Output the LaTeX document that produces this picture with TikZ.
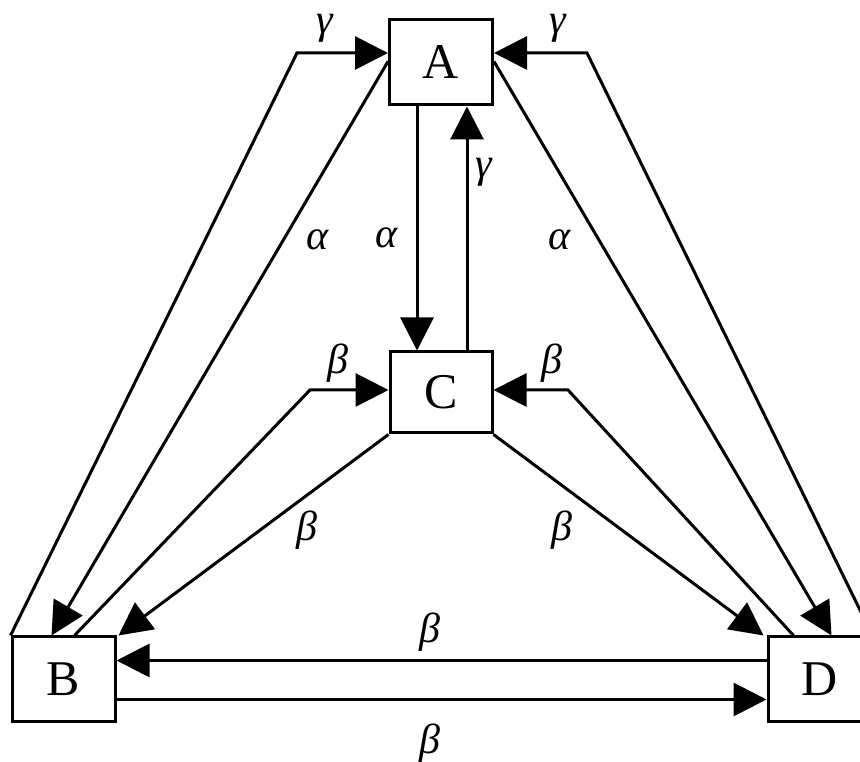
\documentclass[tikz,border=0pt]{standalone}
\usepackage{fontspec}
\setmainfont{Liberation Serif}
\usetikzlibrary{arrows.meta}
\begin{document}
\begin{tikzpicture}[x=1pt,y=1pt,
  box/.style={draw, line width=3pt, inner sep=0pt, minimum width=103pt, minimum height=85pt, font=\fontsize{50}{50}\selectfont},
  lbl/.style={font=\fontsize{42}{42}\selectfont\itshape, inner sep=0pt},
  arr/.style={line width=3pt, -{Triangle[length=33pt,width=33pt]}},
  ln/.style={line width=3pt}]
\useasboundingbox (0,0) rectangle (860,762);
\fill[white] (0,0) rectangle (860,762);
\clip (0,0) rectangle (860,762);
\node[box] (A) at (441,699.5) {A};
\node[box, minimum height=81pt, minimum width=102pt] (C) at (441,369.5) {C};
\node[box] (B) at (63.5,82.5) {B};
\node[box] (D) at (819.5,82.5) {D};
\coordinate (gL) at (297,709);
\coordinate (gR) at (587,709);
\coordinate (bL) at (310,372);
\coordinate (bR) at (568,372);
% gamma outer paths
\draw[arr, line join=miter] (B.north west) -- (gL) -- (A.west |- gL);
\draw[arr, line join=miter] (D.north east) -- (gR) -- (A.east |- gR);
% alpha from A
\draw[arr] ([yshift=1pt]A.west) -- ([xshift=41pt]B.north west);
\draw[arr] ([yshift=1pt]A.east) -- ([xshift=-41pt]D.north east);
\draw[arr] ([xshift=-24pt]A.south) -- ([xshift=-24pt]A.south |- C.north);
\draw[arr] ([xshift=26pt]C.north) -- ([xshift=26pt]C.north |- A.south);
% beta paths to C
\draw[arr, line join=miter] ([xshift=64pt]B.north west) -- (bL) -- (C.west |- bL);
\draw[arr, line join=miter] ([xshift=27pt]D.north west) -- (bR) -- (C.east |- bR);
% beta from C
\draw[arr] (C.south west) -- ([xshift=2pt]B.north east);
\draw[arr] (C.south east) -- ([xshift=-3pt]D.north west);
% horizontal
\draw[arr] ([yshift=19pt]D.west) -- ([yshift=19pt]B.east);
\draw[arr] ([yshift=-20pt]B.east) -- ([yshift=-20pt]D.west);
% labels
\node[lbl] (l1) at (325,734) {γ};
\node[lbl] (l2) at (558,734) {γ};
\node[lbl] (l3) at (484,590) {γ};
\node[lbl] (l4) at (387,524) {α};
\node[lbl] (l5) at (318,522) {α};
\node[lbl] (l6) at (560,522) {α};
\node[lbl] (l7) at (338,399) {β};
\node[lbl] (l8) at (552,399) {β};
\node[lbl] (l9) at (307,232) {β};
\node[lbl] (l10) at (562,232) {β};
\node[lbl] (l11) at (430,130) {β};
\node[lbl] (l12) at (430,19) {β};
\end{tikzpicture}
\end{document}
